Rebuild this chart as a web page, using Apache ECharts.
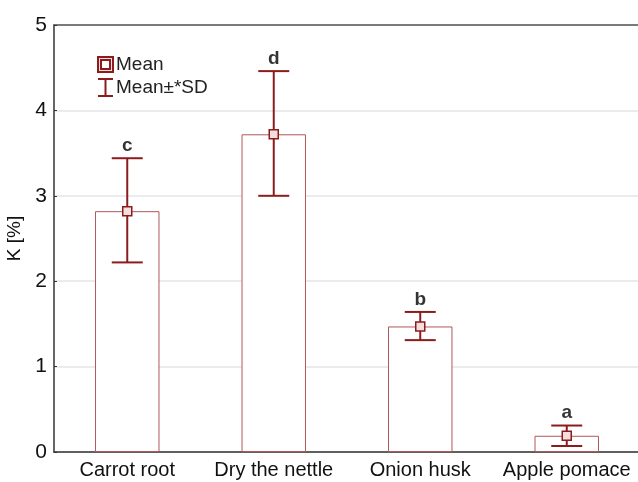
<!DOCTYPE html>
<html>
<head>
<meta charset="utf-8">
<script src="https://cdn.jsdelivr.net/npm/echarts@6/dist/echarts.min.js"></script>
<style>
  html, body { margin: 0; padding: 0; background: #fff; }
  #chart { width: 638px; height: 482px; }
</style>
</head>
<body>
<div id="chart"></div>
<script>
var categories = ['Carrot root', 'Dry the nettle', 'Onion husk', 'Apple pomace']
var means = [2.82, 3.72, 1.47, 0.19]
var sdLow = [2.22, 3.0, 1.31, 0.07]
var sdHigh = [3.44, 4.46, 1.64, 0.31]
var groups = ['c', 'd', 'b', 'a']

var darkRed = '#8c1c1c'
var barRed = '#b05858'
var fontName = 'Liberation Sans, Arial, sans-serif'

var chart = echarts.init(document.getElementById('chart'))

var errData = categories.map(function (c, i) { return [i, sdLow[i], sdHigh[i]] })
var letterData = categories.map(function (c, i) { return [i, sdHigh[i], groups[i]] })

var option = {
  animation: false,
  backgroundColor: '#fff',
  grid: { left: 54, top: 25, width: 586, bottom: 30, containLabel: false, outerBoundsMode: 'none' },
  legend: {
    orient: 'vertical',
    left: 92,
    top: 50,
    itemGap: 4,
    itemWidth: 15,
    itemHeight: 19,
    textStyle: { fontFamily: fontName, fontSize: 19, color: '#222', padding: [0, 0, 0, -2] },
    data: [
      { name: 'Mean', icon: 'path://M0,2H15V17H0Z M3,5V14H12V5Z' },
      { name: 'Mean±*SD', icon: 'path://M0,0H15V2H8.5V17H15V19H0V17H6.5V2H0Z' }
    ]
  },
  xAxis: [
    {
      type: 'category',
      data: categories,
      axisLine: { lineStyle: { color: '#333', width: 1.5 } },
      axisTick: { inside: true, alignWithLabel: true, length: 3, lineStyle: { color: '#333' } },
      axisLabel: { fontFamily: fontName, fontSize: 20, color: '#111', margin: 8, interval: 0 }
    },
    {
      type: 'category',
      data: categories,
      position: 'top',
      axisLine: { lineStyle: { color: '#555', width: 1.5 } },
      axisTick: { inside: true, alignWithLabel: true, length: 3, lineStyle: { color: '#333' } },
      axisLabel: { show: false }
    }
  ],
  yAxis: [
    {
      type: 'value',
      min: 0,
      max: 5,
      interval: 1,
      name: 'K [%]',
      nameLocation: 'middle',
      nameGap: 29,
      nameTextStyle: { fontFamily: fontName, fontSize: 19, color: '#111' },
      axisLine: { show: true, lineStyle: { color: '#333', width: 1.5 } },
      axisTick: { show: true, inside: true, length: 3, lineStyle: { color: '#333' } },
      axisLabel: { fontFamily: fontName, fontSize: 21, color: '#111', margin: 7 },
      splitLine: { show: true, lineStyle: { color: '#e4e4e4', width: 1.5 } }
    }
  ],
  series: [
    {
      type: 'bar',
      name: 'bars',
      data: means,
      barWidth: '44%',
      itemStyle: { color: '#fff', borderColor: barRed, borderWidth: 1 },
      z: 1
    },
    {
      type: 'custom',
      name: 'Mean±*SD',
      data: errData,
      itemStyle: { color: darkRed },
      renderItem: function (params, api) {
        var lo = api.coord([api.value(0), api.value(1)])
        var hi = api.coord([api.value(0), api.value(2)])
        var hw = 15.5
        var style = { stroke: darkRed, lineWidth: 2, fill: null }
        return {
          type: 'group',
          children: [
            { type: 'line', shape: { x1: hi[0], y1: hi[1], x2: lo[0], y2: lo[1] }, style: style },
            { type: 'line', shape: { x1: hi[0] - hw, y1: hi[1], x2: hi[0] + hw, y2: hi[1] }, style: style },
            { type: 'line', shape: { x1: lo[0] - hw, y1: lo[1], x2: lo[0] + hw, y2: lo[1] }, style: style }
          ]
        }
      },
      z: 3
    },
    {
      type: 'scatter',
      name: 'Mean',
      data: means.map(function (m, i) { return [i, m] }),
      symbol: 'rect',
      symbolSize: 9,
      itemStyle: { color: '#f4dede', borderColor: darkRed, borderWidth: 1.5, opacity: 1 },
      z: 4
    },
    {
      type: 'scatter',
      name: 'letters',
      data: letterData,
      symbolSize: 0,
      label: {
        show: true,
        position: 'top',
        distance: 3,
        formatter: function (p) { return p.value[2] },
        fontFamily: fontName,
        fontSize: 19,
        fontWeight: 'bold',
        color: '#000'
      },
      z: 5
    }
  ]
}

chart.setOption(option)
</script>
</body>
</html>
